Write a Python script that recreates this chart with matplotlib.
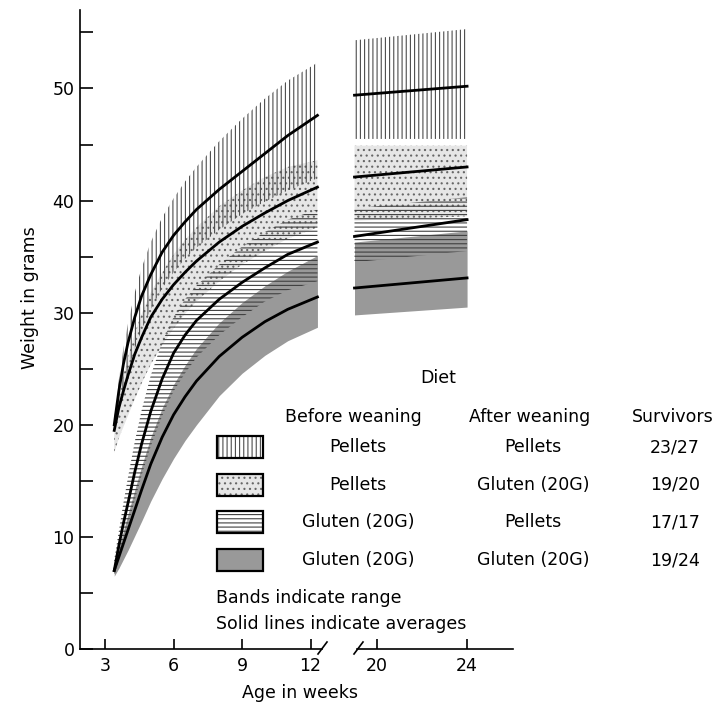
import numpy as np
import matplotlib.pyplot as plt
from matplotlib.patches import Rectangle

plt.rcParams['font.family'] = ['DejaVu Sans']
plt.rcParams['hatch.linewidth'] = 0.8

# weeks for the part before the axis break, and after it
weeks_a = [3.4, 3.6, 3.8, 4.0, 4.3, 4.6, 5.0, 5.5, 6.0, 6.5, 7.0, 8.0, 9.0, 10.0, 11.0, 12.3]
weeks_b = [19, 24]

# Pellets -> Pellets (vertical lines)
pp_mean = [20, 23, 25.4, 27.3, 29.6, 31.5, 33.4, 35.4, 36.9, 38.1, 39.2, 41, 42.6, 44.2, 45.8, 47.6]
pp_top = [20.5, 24, 26.8, 29, 31.8, 34, 36.3, 38.5, 40.2, 41.7, 43, 45.3, 47.3, 49.1, 50.7, 52.3]
pp_low = [19.5, 21.5, 23.2, 24.8, 26.8, 28.5, 30.3, 32.2, 33.6, 34.8, 35.8, 37.4, 38.8, 39.9, 40.9, 42]
pp_mean_b = [49.4, 50.2]
pp_top_b = [54.3, 55.3]
pp_low_b = [45.5, 45.5]

# Pellets -> Gluten (stipple)
pg_mean = [19.5, 21.5, 23, 24.4, 26.3, 27.8, 29.6, 31.2, 32.5, 33.6, 34.6, 36.3, 37.7, 38.9, 40, 41.2]
pg_top = [20, 22.5, 24.4, 26, 28.2, 29.9, 31.8, 33.6, 35.2, 36.5, 37.6, 39.5, 40.9, 42.1, 43, 43.6]
pg_low = [17.5, 18.8, 19.8, 20.8, 22.3, 23.7, 25.4, 27.1, 28.6, 29.9, 31, 32.8, 34.3, 35.5, 36.6, 37.6]
pg_mean_b = [42.1, 43.0]
pg_top_b = [44.9, 44.9]
pg_low_b = [38.2, 38.6]

# Gluten -> Pellets (horizontal lines)
gp_mean = [7, 9.2, 11.2, 13, 15.8, 18.3, 21.2, 24.1, 26.4, 28, 29.3, 31.2, 32.7, 34, 35.2, 36.3]
gp_top = [8, 10.5, 13, 15.3, 18.5, 21.3, 24.4, 27.4, 29.6, 31.2, 32.4, 34.3, 35.9, 37.2, 38.3, 39.2]
gp_low = [6.5, 8, 9.5, 11, 13.3, 15.5, 18.1, 20.8, 23, 24.6, 26, 28, 29.6, 31, 32, 32.8]
gp_mean_b = [36.8, 38.3]
gp_top_b = [39.3, 40.3]
gp_low_b = [34.5, 35.5]

# Gluten -> Gluten (dark grey)
gg_mean = [7, 8.2, 9.4, 10.6, 12.4, 14.2, 16.5, 18.9, 20.9, 22.5, 23.9, 26.1, 27.8, 29.2, 30.3, 31.4]
gg_top = [7.5, 9, 10.5, 12, 14.2, 16.3, 18.9, 21.5, 23.6, 25.3, 26.8, 29.1, 30.9, 32.4, 33.7, 35.1]
gg_low = [6.5, 7.2, 8, 8.8, 10.1, 11.4, 13.2, 15.2, 17, 18.6, 20, 22.6, 24.6, 26.2, 27.5, 28.7]
gg_mean_b = [32.2, 33.1]
gg_top_b = [36.3, 37.3]
gg_low_b = [29.8, 30.5]

before = ['Pellets', 'Pellets', 'Gluten (20G)', 'Gluten (20G)']
after = ['Pellets', 'Gluten (20G)', 'Pellets', 'Gluten (20G)']
survivors = ['23/27', '19/20', '17/17', '19/24']

fig = plt.figure(figsize=(7.19, 7.04), dpi=100)
W, H = 719, 704
y0, y1 = 649, 10
ax1 = fig.add_axes([80 / W, (H - y0) / H, (322 - 80) / W, (y0 - y1) / H])
ax2 = fig.add_axes([350 / W, (H - y0) / H, (513 - 350) / W, (y0 - y1) / H], sharey=ax1)


def draw(ax, x, pp, pg, gp, gg):
    x = np.array(x)
    # dark grey band first, then stipple, then line hatches on top
    ax.fill_between(x, gg[2], gg[1], facecolor='0.6', edgecolor='0.6', linewidth=0)
    ax.fill_between(x, pg[2], pg[1], facecolor='0.9', edgecolor='0.4',
                    hatch='...', linewidth=0)
    ax.fill_between(x, gp[2], gp[1], facecolor='none', edgecolor='0.25',
                    hatch='----', linewidth=0)
    ax.fill_between(x, pp[2], pp[1], facecolor='none', edgecolor='0.3',
                    hatch='||||', linewidth=0)
    for s in (pp, pg, gp, gg):
        ax.plot(x, s[0], color='black', lw=2)


draw(ax1, weeks_a, (pp_mean, pp_top, pp_low), (pg_mean, pg_top, pg_low),
     (gp_mean, gp_top, gp_low), (gg_mean, gg_top, gg_low))
draw(ax2, weeks_b, (pp_mean_b, pp_top_b, pp_low_b), (pg_mean_b, pg_top_b, pg_low_b),
     (gp_mean_b, gp_top_b, gp_low_b), (gg_mean_b, gg_top_b, gg_low_b))

ax1.set_xlim(1.9, 12.5)
ax2.set_xlim(18.8, 26.04)
ax1.set_ylim(0, 57)

for s in ('top', 'right'):
    ax1.spines[s].set_visible(False)
for s in ('top', 'right', 'left'):
    ax2.spines[s].set_visible(False)
ax2.spines['bottom'].set_bounds(19.1, 26.04)

ax1.set_xticks([3, 6, 9, 12])
ax2.set_xticks([20, 24])
ax1.set_yticks([0, 10, 20, 30, 40, 50])
ax1.set_yticks([5, 15, 25, 35, 45, 55], minor=True)
for ax in (ax1, ax2):
    ax.tick_params(axis='x', direction='in', length=7, width=1.2, labelsize=12.5, pad=6)
    ax.spines['bottom'].set_linewidth(1.2)
ax1.spines['left'].set_linewidth(1.2)
ax1.tick_params(axis='y', which='both', direction='in', length=9, width=1.2,
                labelsize=12.5, pad=4)
ax2.tick_params(axis='y', which='both', left=False, labelleft=False)
ax1.set_facecolor('none')
ax2.set_facecolor('none')

ax1.set_ylabel('Weight in grams', fontsize=12.5)
ax1.yaxis.set_label_coords(-0.17, 0.55)
fig.text(300 / W, 1 - 693 / H, 'Age in weeks', fontsize=12.5, ha='center', va='center')

# overlay in pixel units for the break marks and the key
ov = fig.add_axes([0, 0, 1, 1])
ov.set_xlim(0, W)
ov.set_ylim(H, 0)
ov.axis('off')
ov.patch.set_alpha(0)
for bx in (318, 354):
    ov.plot([bx, bx + 9], [y0 + 5, y0 - 7], color='black', lw=1.2)

ov.text(438, 378, 'Diet', fontsize=12.5, ha='center', va='center')
ov.text(353, 417, 'Before weaning', fontsize=12.5, ha='center', va='center')
ov.text(530, 417, 'After weaning', fontsize=12.5, ha='center', va='center')
ov.text(673, 417, 'Survivors', fontsize=12.5, ha='center', va='center')

box_styles = [dict(facecolor='white', edgecolor='0.3', hatch='||||'),
              dict(facecolor='0.9', edgecolor='0.4', hatch='...'),
              dict(facecolor='white', edgecolor='0.25', hatch='----'),
              dict(facecolor='0.6', edgecolor='0.6')]
for i in range(4):
    yc = 447 + i * 37.7
    ov.add_patch(Rectangle((217, yc - 11), 46, 22, linewidth=0, **box_styles[i]))
    ov.add_patch(Rectangle((217, yc - 11), 46, 22, facecolor='none',
                           edgecolor='black', linewidth=1.6))
    ov.text(358, yc, before[i], fontsize=12.5, ha='center', va='center')
    ov.text(533, yc, after[i], fontsize=12.5, ha='center', va='center')
    ov.text(675, yc, survivors[i], fontsize=12.5, ha='center', va='center')

ov.text(216, 598, 'Bands indicate range', fontsize=12.5, ha='left', va='center')
ov.text(216, 624, 'Solid lines indicate averages', fontsize=12.5, ha='left', va='center')

fig.savefig('out.png', dpi=100)
